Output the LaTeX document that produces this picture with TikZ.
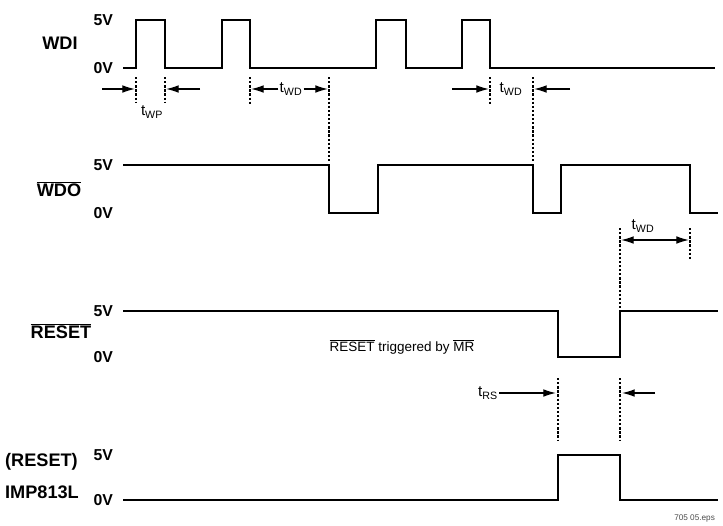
\documentclass[tikz,border=0pt]{standalone}
\usepackage{fontspec}
\setmainfont{Liberation Sans}
\usetikzlibrary{arrows.meta}

\begin{document}
\begin{tikzpicture}[x=0.03cm,y=-0.03cm,>={Latex[length=3.8mm,width=2.3mm]},
  wave/.style={line width=1.7pt},
  tmark/.style={line width=0.9pt,dash pattern=on 2pt off 1.5pt},
  tarrow/.style={line width=1.1pt,->},
  sig/.style={font=\fontsize{15.5}{15.5}\selectfont\bfseries},
  lvl/.style={font=\fontsize{13.5}{13.5}\selectfont\bfseries,anchor=east},
  tlab/.style={font=\fontsize{13}{13}\selectfont,inner sep=1pt}]
\useasboundingbox (0,0) rectangle (723,525);
% signal names
\node[sig] (wdi) at (60,43) {WDI};
\node[sig] (wdo) at (59,189) {$\overline{\mbox{WDO}}$};
\node[sig] (rst) at (61,331) {$\overline{\mbox{RESET}}$};
\node[sig,anchor=west] (rsth) at (1,462) {(RESET)};
\node[sig,anchor=west] (imp) at (1,492) {IMP813L};
% levels
\foreach \n/\y in {a/20,b/165,c/311,d/455}
  \node[lvl] (hi\n) at (117,\y) {5V};
\foreach \n/\y in {a/68,b/213,c/357,d/500}
  \node[lvl] (lo\n) at (117,\y) {0V};
% waveforms
\draw[wave](123,68)--(136,68)--(136,20)--(165,20)--(165,68)--(222,68)--(222,20)--(250,20)--(250,68)
  --(376,68)--(376,20)--(406,20)--(406,68)--(462,68)--(462,20)--(490,20)--(490,68)--(715,68);
\draw[wave](123,165)--(329,165)--(329,213)--(378,213)--(378,165)--(533,165)--(533,213)--(561,213)
  --(561,165)--(690,165)--(690,213)--(718,213);
\draw[wave](123,311)--(558,311)--(558,357)--(620,357)--(620,311)--(718,311);
\draw[wave](123,500)--(558,500)--(558,455)--(620,455)--(620,500)--(718,500);
% timing marks
\draw[tmark](136,77)--(136,103) (165,77)--(165,103)
  (250,77)--(250,105) (329,77)--(329,162)
  (490,77)--(490,105) (533,77)--(533,162)
  (620,228)--(620,308) (690,228)--(690,260)
  (558,378)--(558,440) (620,378)--(620,440);
% t_WP
\coordinate (wp1) at (135,89);
\coordinate (wp2) at (166,89);
\draw[tarrow](102,89)--(wp1);
\draw[tarrow](200,89)--(wp2);
\node[tlab] (twp) at (152,112) {t\textsubscript{WP}};
% first t_WD
\node[tlab] (twda) at (291,89) {t\textsubscript{WD}};
\draw[tarrow](twda.west)--(251,89);
\draw[tarrow](twda.east)--(328,89);
% second t_WD
\node[tlab] (twdb) at (511,89) {t\textsubscript{WD}};
\draw[tarrow](452,89)--(489,89);
\draw[tarrow](570,89)--(534,89);
% third t_WD
\node[tlab] (twdc) at (643,226) {t\textsubscript{WD}};
\draw[tarrow,<->](621,240)--(689,240);
% t_RS
\node[tlab] (trs) at (488,393) {t\textsubscript{RS}};
\coordinate (rs1) at (556,0);
\draw[tarrow](trs.east)--(trs.east -| rs1);
\draw[tarrow](655,393)--(622,393);
% note
\node[font=\fontsize{11.5}{11.5}\selectfont] (note) at (402,347)
  {$\overline{\mbox{RESET}}$ triggered by $\overline{\mbox{MR}}$};
\node[font=\fontsize{7}{7}\selectfont,anchor=east,text=black!70] (fig) at (719,518) {705 05.eps};
\end{tikzpicture}
\end{document}
